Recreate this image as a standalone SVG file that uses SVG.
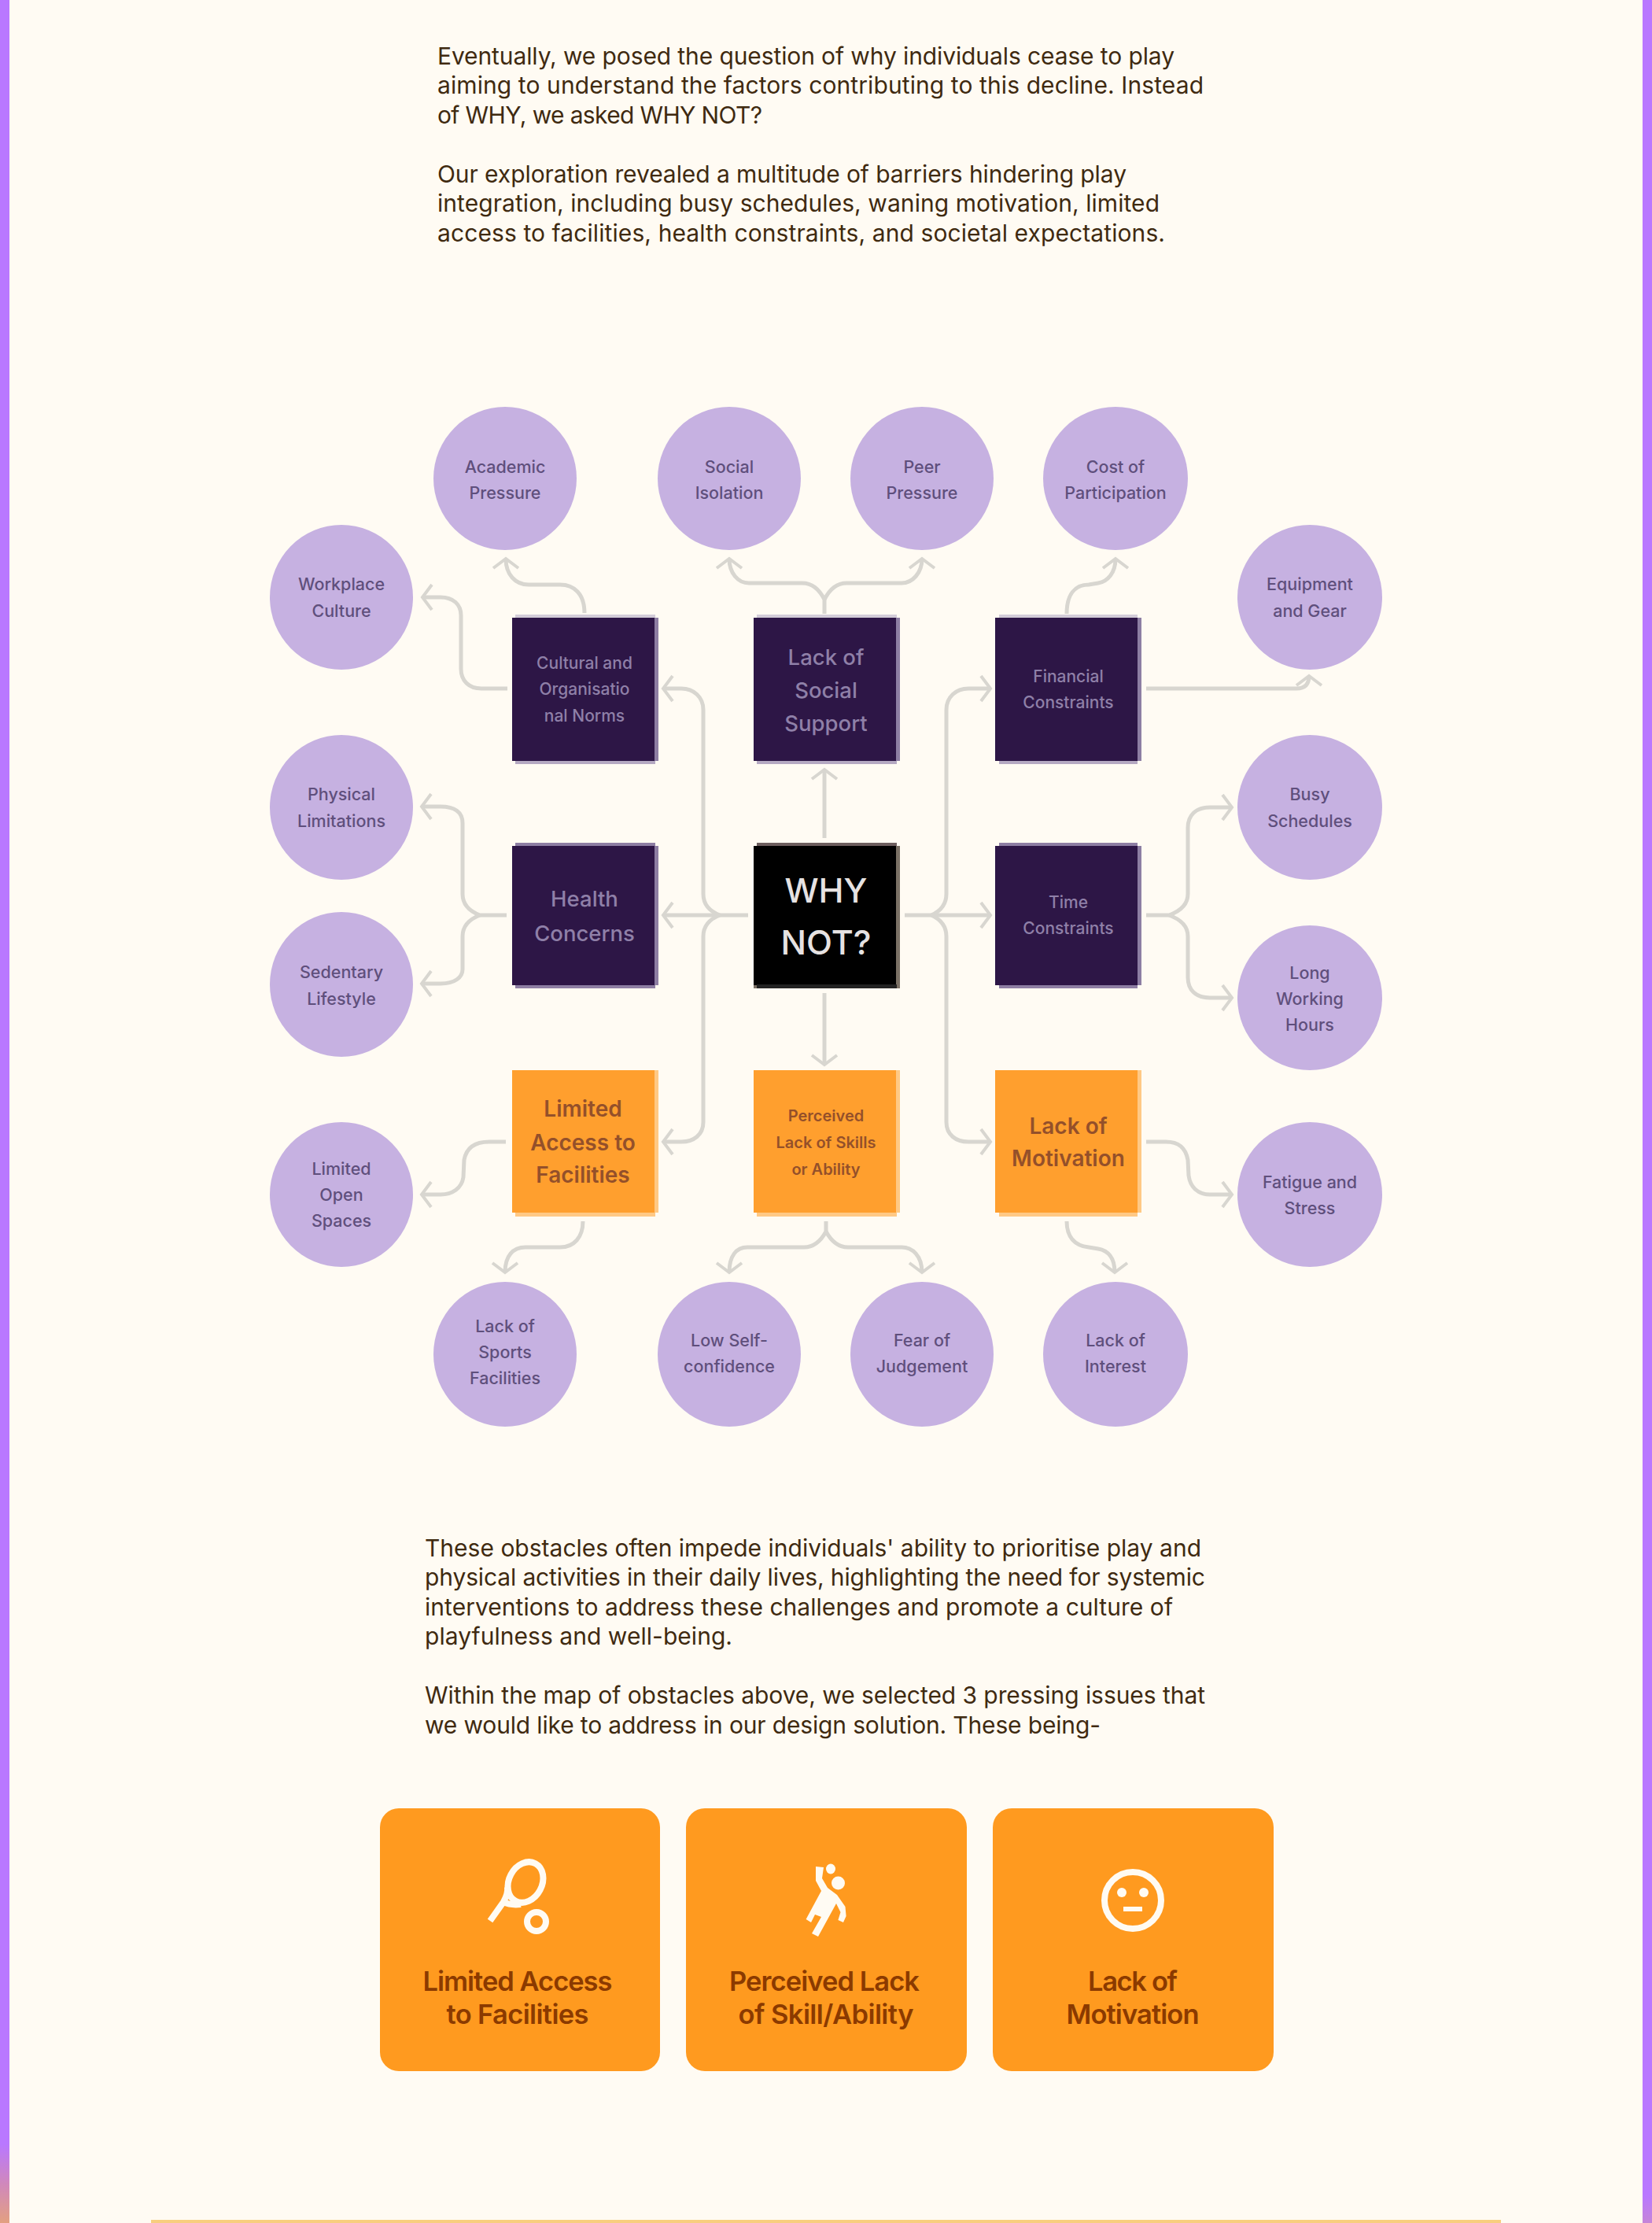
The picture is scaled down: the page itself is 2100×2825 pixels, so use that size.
<svg xmlns="http://www.w3.org/2000/svg" width="2100" height="2825" viewBox="0 0 2100 2825">
<defs>
<style>
text{font-family:"Inter","Liberation Sans",sans-serif;text-anchor:middle}
.p{font-size:30px;fill:#3f2a10;text-anchor:start}
.c{font-size:21.5px;font-weight:500;fill:#5f4f7c}
.ds{font-size:21px;font-weight:500;fill:#8f80a8}
.dl{font-size:27.5px;font-weight:500;fill:#8f80a8}
.os{font-size:20px;font-weight:600;fill:#94502a}
.ol{font-size:28px;font-weight:600;fill:#94502a}
.why{font-size:43px;font-weight:500;fill:#e6e2e2}
.t{font-size:34.5px;font-weight:600;fill:#8b3a00}
.circle{fill:#c6b1e1}
.dark{fill:#2d1646}
.o{fill:#ff9f2e}
.edge-d{fill:#8d7ea3}
.edge-t{fill:#d3ccd8}
.edge-b{fill:#b5a9c2}
.edge-o{fill:#ffc985}
.card{fill:#ff9a1f}
.icon{fill:#fffbf3}
.iconline{fill:none;stroke:#fffbf3;stroke-width:8}
#connectors{filter:url(#soft)}
#connectors path{fill:none;stroke:#d8d6d0;stroke-width:5;marker-end:url(#arrow)}
</style>
<filter id="soft" filterUnits="userSpaceOnUse" x="0" y="0" width="2100" height="2825"><feGaussianBlur stdDeviation="0.7"/></filter>
<marker id="arrow" markerUnits="userSpaceOnUse" markerWidth="24" markerHeight="40" refX="14" refY="20" orient="auto" viewBox="0 0 24 40">
<path d="M2 4 L14 20 L2 36" fill="none" stroke="#d8d6d0" stroke-width="4"/>
</marker>
<linearGradient id="barL" x1="0" y1="2725" x2="0" y2="2825" gradientUnits="userSpaceOnUse"><stop offset="0" stop-color="#b978ff"/><stop offset="0.5" stop-color="#d088bc"/><stop offset="1" stop-color="#e3a080"/></linearGradient>
<linearGradient id="barR" x1="0" y1="2790" x2="0" y2="2825" gradientUnits="userSpaceOnUse"><stop offset="0" stop-color="#b978ff"/><stop offset="1" stop-color="#c585d8"/></linearGradient>
</defs>
<rect width="2100" height="2825" fill="#fffbf3"/>
<rect x="0" y="0" width="12" height="2825" fill="url(#barL)"/>
<rect x="2088" y="0" width="12" height="2825" fill="url(#barR)"/>
<rect x="192" y="2821" width="1716" height="4" fill="#f8ce7e"/>

<g id="intro">
<text class="p" x="556" y="82" textLength="937">Eventually, we posed the question of why individuals cease to play</text>
<text class="p" x="556" y="119" textLength="974">aiming to understand the factors contributing to this decline. Instead</text>
<text class="p" x="556" y="157" textLength="413">of WHY, we asked WHY NOT?</text>
<text class="p" x="556" y="232" textLength="876">Our exploration revealed a multitude of barriers hindering play</text>
<text class="p" x="556" y="269" textLength="918">integration, including busy schedules, waning motivation, limited</text>
<text class="p" x="556" y="307" textLength="925">access to facilities, health constraints, and societal expectations.</text>
</g>

<g id="connectors">
<path d="M743 779 C743 755 730 743 712 743 L672 743 C655 743 643 730 643 710"/>
<path d="M645 875 H612 C596 875 586 865 586 850 V782 C586 768 576 759 560 759 H537"/>
<path d="M951 1163 H843"/>
<path d="M915 1163 C902 1158 894 1150 894 1136 V902 C894 886 882 875 866 875 H843"/>
<path d="M915 1163 C902 1168 894 1176 894 1190 V1426 C894 1442 882 1451 866 1451 H843"/>
<path d="M1150 1163 H1259"/>
<path d="M1184 1163 C1195 1158 1203 1150 1203 1136 V902 C1203 886 1215 875 1231 875 H1259"/>
<path d="M1184 1163 C1195 1168 1203 1176 1203 1190 V1426 C1203 1442 1215 1451 1231 1451 H1259"/>
<path d="M1048 1065 V978"/>
<path d="M1048 1262 V1353"/>
<path d="M1048 780 V762 C1042 750 1034 741 1020 741 H952 C938 741 927 728 927 710"/>
<path d="M1048 762 C1054 750 1062 741 1076 741 H1146 C1160 741 1172 728 1172 710"/>
<path d="M1356 780 C1356 756 1366 743 1384 743 L1396 741 C1408 739 1418 728 1418 710"/>
<path d="M1457 875 H1648 C1658 875 1664 870 1664 859"/>
<path d="M1457 1163 H1486 C1500 1158 1510 1150 1510 1136 V1052 C1510 1036 1520 1026 1538 1026 H1566"/>
<path d="M1486 1163 C1500 1168 1510 1176 1510 1190 V1242 C1510 1258 1520 1268 1538 1268 H1566"/>
<path d="M644 1163 H610 C597 1158 588 1150 588 1136 V1046 C588 1032 578 1025 560 1025 H536"/>
<path d="M610 1163 C597 1168 588 1176 588 1190 V1232 C588 1242 578 1250 560 1250 H536"/>
<path d="M643 1451 H622 C604 1451 593 1458 590 1474 L589 1496 C587 1510 575 1518 560 1518 H536"/>
<path d="M741 1552 C741 1572 730 1585 712 1585 H668 C652 1585 642 1596 642 1617"/>
<path d="M1050 1552 V1565 C1044 1576 1036 1585 1022 1585 H950 C936 1585 927 1596 927 1617"/>
<path d="M1050 1565 C1056 1576 1064 1585 1078 1585 H1146 C1160 1585 1172 1596 1172 1617"/>
<path d="M1457 1451 H1482 C1498 1451 1507 1458 1510 1474 L1511 1494 C1513 1508 1522 1518 1538 1518 H1566"/>
<path d="M1356 1552 C1356 1572 1366 1583 1384 1585 L1396 1587 C1408 1589 1417 1598 1417 1617"/>
</g>

<g id="academic"><ellipse class="circle" cx="642" cy="608" rx="91" ry="91"/><text class="c" x="642" y="601">Academic</text><text class="c" x="642" y="634">Pressure</text></g>
<g id="social-isolation"><ellipse class="circle" cx="927" cy="608" rx="91" ry="91"/><text class="c" x="927" y="601">Social</text><text class="c" x="927" y="634">Isolation</text></g>
<g id="peer"><ellipse class="circle" cx="1172" cy="608" rx="91" ry="91"/><text class="c" x="1172" y="601">Peer</text><text class="c" x="1172" y="634">Pressure</text></g>
<g id="cost"><ellipse class="circle" cx="1418" cy="608" rx="92" ry="91"/><text class="c" x="1418" y="601">Cost of</text><text class="c" x="1418" y="634">Participation</text></g>
<g id="workplace"><ellipse class="circle" cx="434" cy="759" rx="91" ry="92"/><text class="c" x="434" y="750">Workplace</text><text class="c" x="434" y="784">Culture</text></g>
<g id="equipment"><ellipse class="circle" cx="1665" cy="759" rx="92" ry="92"/><text class="c" x="1665" y="750">Equipment</text><text class="c" x="1665" y="784">and Gear</text></g>
<g id="physical"><ellipse class="circle" cx="434" cy="1026" rx="91" ry="92"/><text class="c" x="434" y="1017">Physical</text><text class="c" x="434" y="1051">Limitations</text></g>
<g id="busy"><ellipse class="circle" cx="1665" cy="1026" rx="92" ry="92"/><text class="c" x="1665" y="1017">Busy</text><text class="c" x="1665" y="1051">Schedules</text></g>
<g id="sedentary"><ellipse class="circle" cx="434" cy="1251" rx="91" ry="92"/><text class="c" x="434" y="1243">Sedentary</text><text class="c" x="434" y="1277">Lifestyle</text></g>
<g id="long-hours"><ellipse class="circle" cx="1665" cy="1268" rx="92" ry="92"/><text class="c" x="1665" y="1244">Long</text><text class="c" x="1665" y="1277">Working</text><text class="c" x="1665" y="1310">Hours</text></g>
<g id="open-spaces"><ellipse class="circle" cx="434" cy="1518" rx="91" ry="92"/><text class="c" x="434" y="1493">Limited</text><text class="c" x="434" y="1526">Open</text><text class="c" x="434" y="1559">Spaces</text></g>
<g id="fatigue"><ellipse class="circle" cx="1665" cy="1518" rx="92" ry="92"/><text class="c" x="1665" y="1510">Fatigue and</text><text class="c" x="1665" y="1543">Stress</text></g>
<g id="sports"><ellipse class="circle" cx="642" cy="1721" rx="91" ry="92"/><text class="c" x="642" y="1693">Lack of</text><text class="c" x="642" y="1726">Sports</text><text class="c" x="642" y="1759">Facilities</text></g>
<g id="self-confidence"><ellipse class="circle" cx="927" cy="1721" rx="91" ry="92"/><text class="c" x="927" y="1711">Low Self-</text><text class="c" x="927" y="1744">confidence</text></g>
<g id="judgement"><ellipse class="circle" cx="1172" cy="1721" rx="91" ry="92"/><text class="c" x="1172" y="1711">Fear of</text><text class="c" x="1172" y="1744">Judgement</text></g>
<g id="interest"><ellipse class="circle" cx="1418" cy="1721" rx="92" ry="92"/><text class="c" x="1418" y="1711">Lack of</text><text class="c" x="1418" y="1744">Interest</text></g>

<g id="cultural"><rect class="edge-t" x="655" y="781" width="178" height="6"/><rect class="edge-b" x="655" y="965" width="178" height="6"/><rect class="edge-d" x="651" y="785" width="186" height="182"/><rect class="dark" x="651" y="785" width="181" height="182"/><text class="ds" x="743" y="850">Cultural and</text><text class="ds" x="743" y="883">Organisatio</text><text class="ds" x="743" y="917">nal Norms</text></g>
<g id="lack-social"><rect class="edge-t" x="962" y="781" width="178" height="6"/><rect class="edge-b" x="962" y="965" width="178" height="6"/><rect class="edge-d" x="958" y="785" width="186" height="182"/><rect class="dark" x="958" y="785" width="181" height="182"/><text class="dl" x="1050" y="845">Lack of</text><text class="dl" x="1050" y="887">Social</text><text class="dl" x="1050" y="929">Support</text></g>
<g id="financial"><rect class="edge-t" x="1270" y="781" width="176" height="6"/><rect class="edge-b" x="1270" y="965" width="176" height="6"/><rect class="edge-d" x="1265" y="785" width="186" height="182"/><rect class="dark" x="1265" y="785" width="181" height="182"/><text class="ds" x="1358" y="867">Financial</text><text class="ds" x="1358" y="900">Constraints</text></g>
<g id="health"><rect class="edge-d" x="655" y="1071" width="178" height="6"/><rect class="edge-d" x="655" y="1250" width="178" height="6"/><rect class="edge-d" x="651" y="1075" width="186" height="177"/><rect class="dark" x="651" y="1075" width="181" height="177"/><text class="dl" x="743" y="1152">Health</text><text class="dl" x="743" y="1196">Concerns</text></g>
<g id="why-not"><rect x="962" y="1071" width="178" height="6" fill="#6d5e5e"/><rect x="958" y="1075" width="186" height="181" fill="#7a7065"/><rect x="958" y="1075" width="181" height="177" fill="#000"/><rect x="962" y="1251" width="178" height="5" fill="#222"/><text class="why" x="1050" y="1147">WHY</text><text class="why" x="1050" y="1213">NOT?</text></g>
<g id="time"><rect class="edge-d" x="1270" y="1071" width="176" height="6"/><rect class="edge-d" x="1270" y="1250" width="176" height="6"/><rect class="edge-d" x="1265" y="1075" width="186" height="177"/><rect class="dark" x="1265" y="1075" width="181" height="177"/><text class="ds" x="1358" y="1154">Time</text><text class="ds" x="1358" y="1187">Constraints</text></g>
<g id="limited-access"><rect class="edge-o" x="655" y="1540" width="178" height="6"/><rect class="edge-o" x="651" y="1360" width="186" height="181"/><rect class="o" x="651" y="1360" width="181" height="181"/><text class="ol" x="741" y="1419">Limited</text><text class="ol" x="741" y="1462">Access to</text><text class="ol" x="741" y="1503">Facilities</text></g>
<g id="perceived"><rect class="edge-o" x="962" y="1540" width="178" height="6"/><rect class="edge-o" x="958" y="1360" width="186" height="181"/><rect class="o" x="958" y="1360" width="181" height="181"/><text class="os" x="1050" y="1425">Perceived</text><text class="os" x="1050" y="1459">Lack of Skills</text><text class="os" x="1050" y="1493">or Ability</text></g>
<g id="lack-motivation"><rect class="edge-o" x="1270" y="1540" width="176" height="6"/><rect class="edge-o" x="1265" y="1360" width="186" height="181"/><rect class="o" x="1265" y="1360" width="181" height="181"/><text class="ol" x="1358" y="1441">Lack of</text><text class="ol" x="1358" y="1482">Motivation</text></g>

<g id="outro">
<text class="p" x="540" y="1978" textLength="987">These obstacles often impede individuals' ability to prioritise play and</text>
<text class="p" x="540" y="2015" textLength="992">physical activities in their daily lives, highlighting the need for systemic</text>
<text class="p" x="540" y="2053" textLength="951">interventions to address these challenges and promote a culture of</text>
<text class="p" x="540" y="2090" textLength="391">playfulness and well-being.</text>
<text class="p" x="540" y="2165" textLength="992">Within the map of obstacles above, we selected 3 pressing issues that</text>
<text class="p" x="540" y="2203" textLength="859">we would like to address in our design solution. These being-</text>
</g>

<g id="card-facilities">
<rect class="card" x="483" y="2298" width="356" height="334" rx="24"/>
<ellipse class="iconline" cx="668" cy="2392" rx="21" ry="27" transform="rotate(28 668 2392)"/>
<path class="iconline" d="M623 2441 L640 2417 C644 2410 646 2405 645 2398 M640 2417 C648 2421 654 2421 662 2420"/>
<circle class="iconline" cx="682" cy="2442" r="12"/>
<text class="t" x="658" y="2530" textLength="241">Limited Access</text>
<text class="t" x="658" y="2572" textLength="181">to Facilities</text>
</g>
<g id="card-skill">
<rect class="card" x="872" y="2298" width="357" height="334" rx="24"/>
<circle class="icon" cx="1065.5" cy="2393" r="8.5"/>
<ellipse class="icon" cx="1056" cy="2375" rx="6" ry="6.5"/>
<path class="icon" d="M1037 2372 L1047 2373 L1045 2387 L1052 2399 L1064 2408 L1074.5 2423 L1075.6 2435 L1072 2443 L1065.4 2440 L1068.5 2430 L1063 2419 L1040 2461 L1032 2457 L1044 2436 L1036 2433 L1031 2443 L1024.6 2439 L1044 2403 L1037 2390 Z"/>
<text class="t" x="1048" y="2530" textLength="242">Perceived Lack</text>
<text class="t" x="1050" y="2572" textLength="223">of Skill/Ability</text>
</g>
<g id="card-motivation">
<rect class="card" x="1262" y="2298" width="357" height="334" rx="24"/>
<circle class="iconline" cx="1440" cy="2415" r="36"/>
<circle class="icon" cx="1426" cy="2405" r="6"/>
<circle class="icon" cx="1454" cy="2405" r="6"/>
<rect class="icon" x="1428" y="2423" width="24" height="6"/>
<text class="t" x="1440" y="2530" textLength="114">Lack of</text>
<text class="t" x="1440" y="2572" textLength="169">Motivation</text>
</g>
</svg>
